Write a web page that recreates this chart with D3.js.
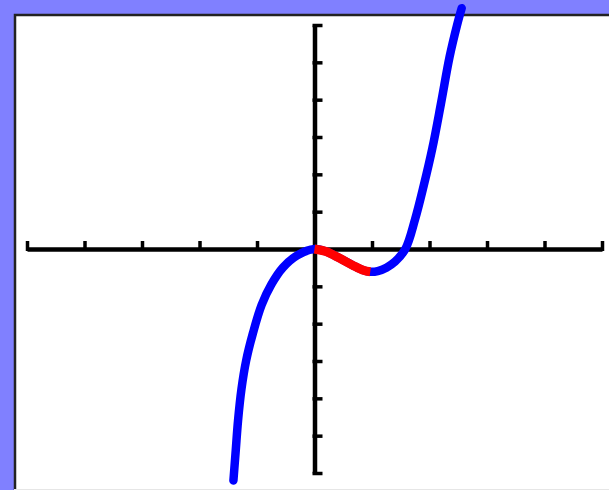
<!DOCTYPE html>
<html>
<head>
<meta charset="utf-8">
<script src="https://cdn.jsdelivr.net/npm/d3@7"></script>
<style>
  html, body { margin: 0; padding: 0; background: #8080ff; }
  svg { display: block; }
</style>
</head>
<body>
<svg id="chart" width="609" height="490"></svg>
<script>
// Tick positions along each axis
const xTicks = [-5, -4, -3, -2, -1, 0, 1, 2, 3, 4, 5];
const yTicks = [-6, -5, -4, -3, -2, -1, 0, 1, 2, 3, 4, 5, 6];

// Cubic-like curve, sampled points (x, y)
const curveX = [-1.41, -1.37, -1.33, -1.27, -1.19, -1.07, -0.92, -0.75, -0.55, -0.30, 0.00,
                0.20, 0.44, 0.67, 0.85, 0.97, 1.10, 1.25, 1.40, 1.58, 1.75, 1.90, 2.05, 2.20, 2.35, 2.48, 2.56];
const curveY = [-6.20, -5.40, -4.60, -3.75, -3.00, -2.25, -1.50, -0.95, -0.50, -0.17, 0.00,
                -0.07, -0.25, -0.44, -0.57, -0.61, -0.59, -0.50, -0.34, 0.00, 0.80, 1.70, 2.70, 3.90, 5.15, 6.00, 6.45];

// Highlighted (decreasing) stretch of the curve
const highlightFrom = 0.00;
const highlightTo = 0.97;

const svg = d3.select("#chart");

// White plotting panel with a dark edge on the top and left
svg.append("rect")
  .attr("x", 14).attr("y", 14)
  .attr("width", 609 - 14).attr("height", 490 - 14)
  .attr("fill", "#ffffff");
svg.append("path")
  .attr("d", "M15,490 V15 H609")
  .attr("fill", "none")
  .attr("stroke", "#222")
  .attr("stroke-width", 2.5);
svg.append("line")
  .attr("x1", 14).attr("x2", 609)
  .attr("y1", 489.5).attr("y2", 489.5)
  .attr("stroke", "#e6e6e6").attr("stroke-width", 1);

const x = d3.scaleLinear().domain([-5, 5]).range([27, 602]);
const y = d3.scaleLinear().domain([-6, 6]).range([473, 25]);

// Horizontal axis with upward ticks
const xAxis = svg.append("g")
  .attr("transform", `translate(0,${y(0)})`)
  .call(d3.axisTop(x).tickValues(xTicks).tickSize(8).tickSizeOuter(0).tickFormat(""));
xAxis.select(".domain").attr("stroke", "#000").attr("stroke-width", 4.5);
xAxis.selectAll(".tick line").attr("stroke", "#000").attr("stroke-width", 3.5)
  .attr("y1", 2);

// Vertical axis with ticks to the right
const yAxis = svg.append("g")
  .attr("transform", `translate(${x(0)},0)`)
  .call(d3.axisRight(y).tickValues(yTicks).tickSize(8).tickSizeOuter(0).tickFormat(""));
yAxis.select(".domain").attr("stroke", "#000").attr("stroke-width", 4.5);
yAxis.selectAll(".tick line").attr("stroke", "#000").attr("stroke-width", 3.5)
  .attr("x1", -2);

const pts = curveX.map((v, i) => [v, curveY[i]]);
const line = d3.line()
  .x(d => x(d[0]))
  .y(d => y(d[1]))
  .curve(d3.curveCatmullRom.alpha(0.5));

svg.append("path")
  .datum(pts)
  .attr("d", line)
  .attr("fill", "none")
  .attr("stroke", "#0000ff")
  .attr("stroke-width", 8.5)
  .attr("stroke-linecap", "round")
  .attr("stroke-linejoin", "round");

const redPts = pts.filter(d => d[0] >= highlightFrom && d[0] <= highlightTo);
svg.append("path")
  .datum(redPts)
  .attr("d", line)
  .attr("fill", "none")
  .attr("stroke", "#ff0000")
  .attr("stroke-width", 9)
  .attr("stroke-linecap", "butt")
  .attr("stroke-linejoin", "round");
</script>
</body>
</html>
